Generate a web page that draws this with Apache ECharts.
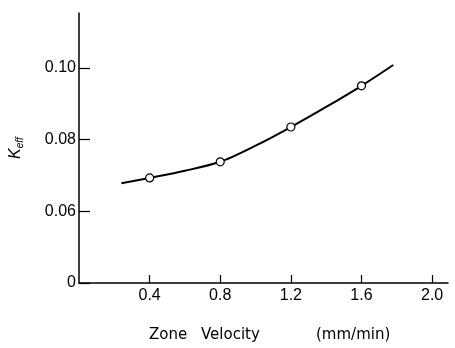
<!DOCTYPE html>
<html>
<head>
<meta charset="utf-8">
<script src="https://cdn.jsdelivr.net/npm/echarts@6/dist/echarts.min.js"></script>
<style>
  html, body { margin: 0; padding: 0; background: #fff; }
  #chart { width: 455px; height: 348px; }
</style>
</head>
<body>
<div id="chart"></div>
<script>
// measured points (open circles)
const velocity = [0.4, 0.8, 1.2, 1.6];
const keff = [0.0693, 0.0738, 0.0835, 0.0950];

// drawn curve
const curveX = [0.24, 0.4, 0.6, 0.8, 1.0, 1.2, 1.4, 1.6, 1.78];
const curveY = [0.0678, 0.0693, 0.0713, 0.0738, 0.0783, 0.0835, 0.0891, 0.0950, 0.1008];

// tick positions; the y axis is broken, its bottom tick (0.04) is labelled "0"
const xTicks = [0.4, 0.8, 1.2, 1.6, 2.0];
const yTicks = [0.04, 0.06, 0.08, 0.10];

let chart = echarts.init(document.getElementById("chart"));
const font = "'Liberation Sans', Arial, sans-serif";
const nameFont = "'DejaVu Sans', sans-serif";

chart.setOption({
    animation: false,
    grid: { left: 72, right: 7, top: 13, bottom: 65 },
    xAxis: {
        type: "value",
        min: 0,
        max: 2.09,
        splitLine: { show: false },
        axisLine: { lineStyle: { color: "#000", width: 1.5 } },
        axisTick: { inside: true, length: 8, customValues: xTicks, lineStyle: { color: "#000", width: 1.2 } },
        axisLabel: {
            customValues: xTicks,
            margin: 5,
            color: "#000",
            fontSize: 16,
            fontFamily: font,
            formatter: v => v.toFixed(1)
        },
        name: "{a|Zone}{b|Velocity}{c|(mm/min)}",
        nameLocation: "middle",
        nameGap: 45,
        nameTextStyle: {
            padding: [0, 0, 0, 66],
            rich: {
                a: { width: 52, align: "left", fontSize: 15, fontFamily: nameFont, color: "#000" },
                b: { width: 115, align: "left", fontSize: 15, fontFamily: nameFont, color: "#000" },
                c: { width: 128, align: "left", fontSize: 15, fontFamily: nameFont, color: "#000" }
            }
        }
    },
    yAxis: {
        type: "value",
        min: 0.04,
        max: 0.1153,
        splitLine: { show: false },
        axisLine: { lineStyle: { color: "#000", width: 1.5 } },
        axisTick: { inside: true, length: 11, customValues: yTicks, lineStyle: { color: "#000", width: 1.2 } },
        axisLabel: {
            customValues: yTicks,
            margin: 3,
            color: "#000",
            fontSize: 16,
            fontFamily: font,
            formatter: v => Math.abs(v - 0.04) < 1e-9 ? "0" : v.toFixed(2)
        },
        name: "{k|K}{s|eff}",
        nameLocation: "middle",
        nameGap: 54,
        nameRotate: 90,
        nameTextStyle: {
            rich: {
                k: { fontSize: 16, fontStyle: "italic", fontFamily: font, color: "#000" },
                s: { fontSize: 10, fontStyle: "italic", fontFamily: font, color: "#000", padding: [8, 0, 0, 0] }
            }
        }
    },
    series: [
        {
            type: "line",
            data: curveX.map((x, i) => [x, curveY[i]]),
            smooth: 0.3,
            showSymbol: false,
            lineStyle: { color: "#000", width: 2 },
            z: 2
        },
        {
            type: "scatter",
            data: velocity.map((x, i) => [x, keff[i]]),
            symbol: "circle",
            symbolSize: 8,
            itemStyle: { color: "#fff", borderColor: "#000", borderWidth: 1.2, opacity: 1 },
            z: 3
        }
    ]
});
</script>
</body>
</html>
